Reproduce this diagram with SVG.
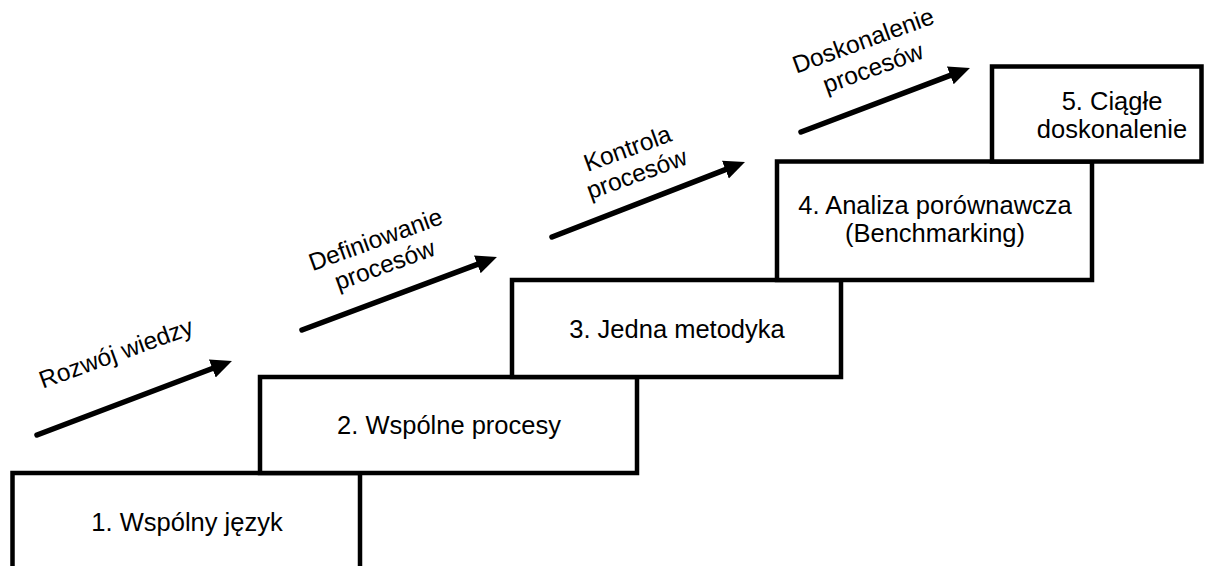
<svg xmlns="http://www.w3.org/2000/svg" width="1205" height="566" viewBox="0 0 1205 566">
  <defs>
    <marker id="ah" markerUnits="userSpaceOnUse" markerWidth="21" markerHeight="20" viewBox="0 0 21 20" refX="0" refY="10" orient="auto">
      <path d="M0,0.5 L21,10 L0,19.5 z" fill="#000"/>
    </marker>
    <style>
      .box { fill: #fff; stroke: #000; stroke-width: 4.5; }
      .bt { font-family: "Liberation Sans", Arial, sans-serif; font-size: 25.5px; fill: #000; text-anchor: middle; }
      .lt { font-family: "Liberation Sans", Arial, sans-serif; font-size: 24.5px; fill: #000; text-anchor: middle; }
      .arr { stroke: #000; stroke-width: 5.5; stroke-linecap: round; fill: none; marker-end: url(#ah); }
    </style>
  </defs>
  <rect width="1205" height="566" fill="#fff"/>
  <g id="step1">
    <rect class="box" x="12.5" y="473" width="347.5" height="120"/>
    <text class="bt" x="187" y="531">1. Wspólny język</text>
  </g>
  <g id="step2">
    <rect class="box" x="260" y="377" width="377" height="96"/>
    <text class="bt" x="449" y="434">2. Wspólne procesy</text>
  </g>
  <g id="step3">
    <rect class="box" x="512" y="280" width="329" height="97"/>
    <text class="bt" x="677" y="338">3. Jedna metodyka</text>
  </g>
  <g id="step4">
    <rect class="box" x="777" y="161.5" width="315" height="118.5"/>
    <text class="bt" x="935" y="214">4. Analiza porównawcza</text>
    <text class="bt" x="935" y="242">(Benchmarking)</text>
  </g>
  <g id="step5">
    <rect class="box" x="992" y="66.5" width="209.5" height="95"/>
    <text class="bt" x="1112" y="110">5. Ciągłe</text>
    <text class="bt" x="1112" y="138">doskonalenie</text>
  </g>
  <g id="connectors">
    <line class="arr" x1="37" y1="435" x2="212.3" y2="368.5"/>
    <line class="arr" x1="302" y1="330" x2="477.3" y2="264.4"/>
    <line class="arr" x1="552" y1="237" x2="725.4" y2="169.6"/>
    <line class="arr" x1="801" y1="132" x2="950.3" y2="75.4"/>
  </g>
  <g id="labels">
    <text class="lt" transform="translate(116,353) rotate(-20)" y="8.5">Rozwój wiedzy</text>
    <text class="lt" transform="translate(380,252) rotate(-20)"><tspan x="0" y="-5">Definiowanie</tspan><tspan x="0" y="22">procesów</tspan></text>
    <text class="lt" transform="translate(632,161) rotate(-20)"><tspan x="0" y="-5">Kontrola</tspan><tspan x="0" y="22">procesów</tspan></text>
    <text class="lt" transform="translate(868,54) rotate(-20)"><tspan x="0" y="-6">Doskonalenie</tspan><tspan x="0" y="23">procesów</tspan></text>
  </g>
</svg>
